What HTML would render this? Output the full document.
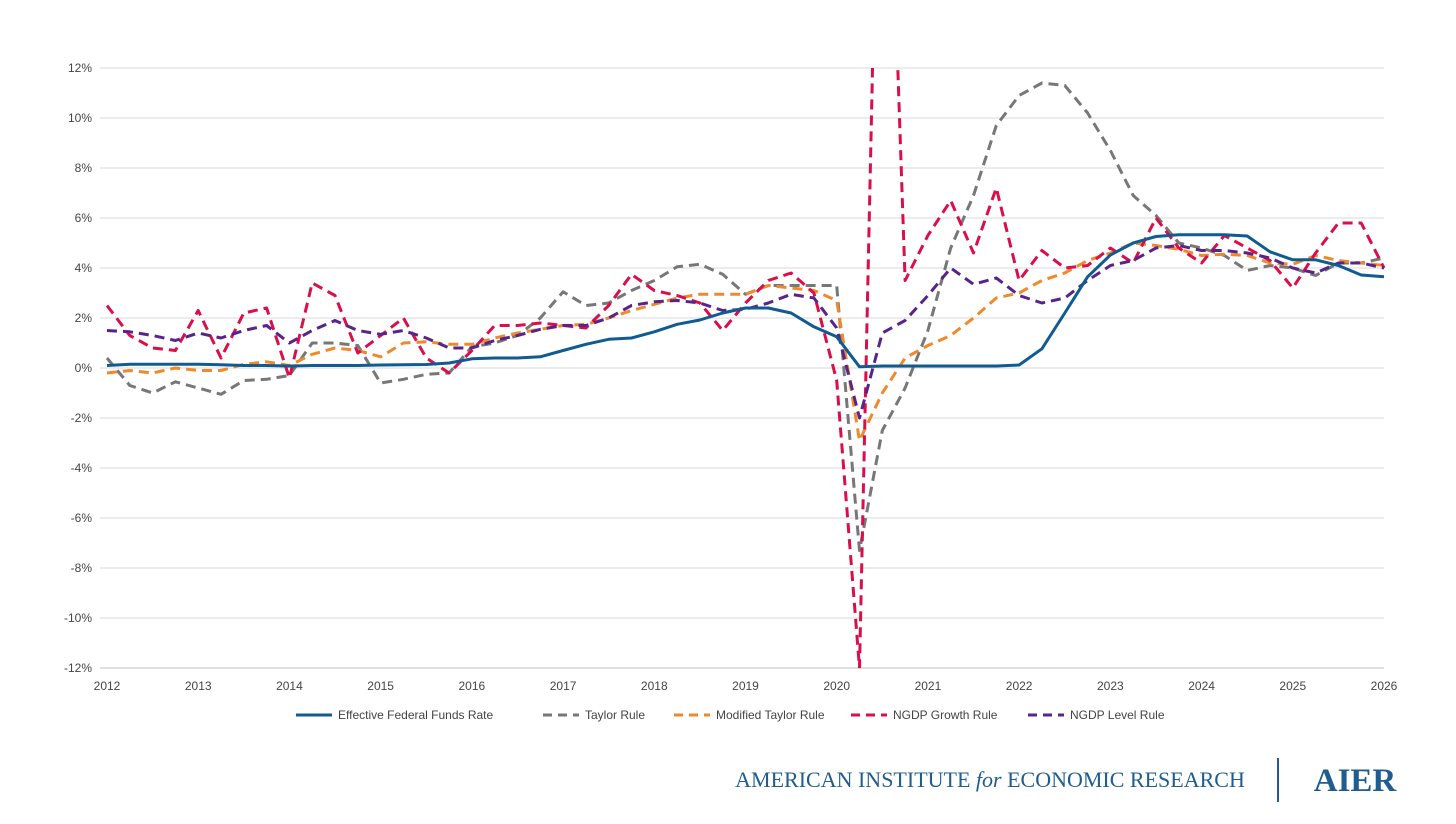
<!DOCTYPE html>
<html><head><meta charset="utf-8"><style>
body{margin:0;background:#fff;}
svg text{font-family:"Liberation Sans",sans-serif;}
</style></head><body>
<svg id="chart" width="1456" height="819" xmlns="http://www.w3.org/2000/svg">
<g id="grid"></g><g id="series"></g><g id="legend"></g>
<g>
<text x="990" y="787" text-anchor="middle" font-family="Liberation Serif,serif" font-size="22" fill="#1f5c8f" style="font-family:'Liberation Serif',serif">AMERICAN INSTITUTE <tspan font-style="italic">for</tspan> ECONOMIC RESEARCH</text>
<line x1="1278" y1="758" x2="1278" y2="802" stroke="#1f5c8f" stroke-width="2"/>
<text x="1355" y="791" text-anchor="middle" font-size="33" font-weight="bold" fill="#1f5c8f" style="font-family:'Liberation Serif',serif">AIER</text>
</g>
</svg>
<script>
const years=[2012,2013,2014,2015,2016,2017,2018,2019,2020,2021,2022,2023,2024,2025,2026];
const yTicks=[12,10,8,6,4,2,0,-2,-4,-6,-8,-10,-12];
const effr=[0.1,0.15,0.15,0.15,0.15,0.13,0.1,0.1,0.08,0.1,0.1,0.1,0.12,0.13,0.14,0.2,0.37,0.4,0.4,0.45,0.7,0.95,1.15,1.2,1.45,1.75,1.92,2.2,2.4,2.4,2.2,1.65,1.25,0.05,0.08,0.08,0.08,0.08,0.08,0.08,0.12,0.77,2.2,3.65,4.52,5.0,5.26,5.33,5.33,5.33,5.28,4.65,4.33,4.33,4.1,3.72,3.65];
const taylor=[0.4,-0.7,-1.0,-0.55,-0.8,-1.05,-0.5,-0.45,-0.3,1.0,1.0,0.9,-0.6,-0.45,-0.25,-0.2,0.85,1.0,1.3,2.0,3.05,2.5,2.6,3.1,3.5,4.05,4.15,3.75,2.95,3.3,3.3,3.3,3.3,-7.3,-2.5,-0.8,1.5,4.8,6.9,9.7,10.9,11.4,11.3,10.2,8.7,6.9,6.1,5.0,4.8,4.5,3.9,4.1,4.0,3.7,4.2,4.2,4.4];
const modTaylor=[-0.2,-0.1,-0.2,0,-0.1,-0.1,0.15,0.25,0.1,0.55,0.8,0.7,0.45,1.0,1.05,0.95,0.95,1.2,1.4,1.55,1.7,1.75,2.0,2.3,2.55,2.8,2.95,2.95,2.95,3.3,3.2,3.1,2.7,-2.9,-1.0,0.4,0.9,1.3,2.0,2.8,3.0,3.5,3.8,4.3,4.6,5.0,4.9,4.75,4.5,4.55,4.5,4.2,4.15,4.5,4.3,4.2,4.1];
const ngdpGrowth=[2.5,1.3,0.8,0.7,2.3,0.4,2.2,2.4,-0.4,3.4,2.9,0.6,1.3,2.0,0.4,-0.2,0.7,1.7,1.7,1.8,1.7,1.6,2.5,3.75,3.1,2.9,2.6,1.5,2.6,3.5,3.8,3.0,-0.5,-12.0,30,3.5,5.3,6.7,4.6,7.2,3.5,4.7,4.0,4.1,4.8,4.2,6.0,4.8,4.2,5.3,4.8,4.3,3.2,4.6,5.8,5.8,4.0];
const ngdpLevel=[1.5,1.45,1.3,1.1,1.4,1.2,1.5,1.7,1.0,1.5,1.9,1.5,1.35,1.5,1.2,0.8,0.8,1.1,1.3,1.55,1.7,1.7,2.0,2.5,2.65,2.7,2.6,2.3,2.35,2.6,2.95,2.8,1.6,-2.0,1.4,1.9,2.9,4.0,3.35,3.6,2.9,2.6,2.8,3.5,4.1,4.3,4.8,4.9,4.7,4.7,4.6,4.4,4.0,3.8,4.2,4.2,4.0];
const seriesNames=["Effective Federal Funds Rate","Taylor Rule","Modified Taylor Rule","NGDP Growth Rule","NGDP Level Rule"];

const NS="http://www.w3.org/2000/svg";
const X0=107,X1=1384,Y0=368,PPU=25;
const xYear=y=>X0+(y-2012)*(X1-X0)/14;
const xIdx=i=>X0+i*(X1-X0)/56;
const yv=v=>Y0-v*PPU;
function mk(tag,attrs,parent){const e=document.createElementNS(NS,tag);for(const k in attrs)e.setAttribute(k,attrs[k]);parent.appendChild(e);return e;}
const svg=document.getElementById('chart');
const grid=document.getElementById('grid');
const defs=mk('defs',{},svg);
const cp=mk('clipPath',{id:'plotclip'},defs);
mk('rect',{x:95,y:yv(12),width:1300,height:yv(-12)-yv(12)},cp);
yTicks.forEach(t=>{
  const l=mk('line',{x1:X0-7,x2:X1,y1:yv(t),y2:yv(t),stroke:t===-12?'#bfbfbf':'#d9d9d9','stroke-width':1},grid);
  
  
  const tx=mk('text',{x:92,y:yv(t)+4,'text-anchor':'end','font-size':12,fill:'#444'},grid);
  tx.textContent=t+'%';
  
  
});
years.forEach(y=>{
  const tx=mk('text',{x:xYear(y),y:690,'text-anchor':'middle','font-size':12,fill:'#444'},grid);
  tx.textContent=y;
  
  
});
const styles=[
 {c:'#0f5b92',d:null},{c:'#777777',d:'10 6'},{c:'#f0892b',d:'10 6'},{c:'#dc0d4b',d:'10 6'},{c:'#58248c',d:'10 6'}];
const data=[effr,taylor,modTaylor,ngdpGrowth,ngdpLevel];
const sg=document.getElementById('series');
sg.setAttribute('clip-path','url(#plotclip)');
const order=[1,2,3,4,0];
order.forEach(k=>{
  const pts=data[k].map((v,i)=>xIdx(i).toFixed(1)+','+yv(v).toFixed(1)).join(' ');
  const a={points:pts,fill:'none',stroke:styles[k].c,'stroke-width':3,'stroke-linejoin':'round'};
  if(styles[k].d)a['stroke-dasharray']=styles[k].d;
  const p=mk('polyline',a,sg);
  
  
});
const lg=document.getElementById('legend');
const lx=[296,543,674,851,1028];
seriesNames.forEach((n,k)=>{
  const g=mk('g',{},lg);
  
  
  const a={x1:lx[k],x2:lx[k]+36,y1:715,y2:715,stroke:styles[k].c,'stroke-width':3};
  if(styles[k].d)a['stroke-dasharray']='9 6';
  mk('line',a,g);
  const t=mk('text',{x:lx[k]+42,y:719,'font-size':12,fill:'#444'},g);
  t.textContent=n;
});
</script>
</body></html>
